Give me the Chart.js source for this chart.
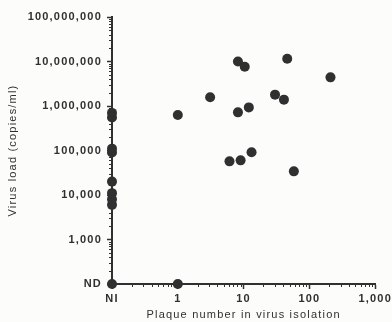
<!DOCTYPE html>
<html>
<head>
<meta charset="utf-8">
<script src="https://cdn.jsdelivr.net/npm/chart.js@4/dist/chart.umd.min.js"></script>
<style>
  html, body { margin: 0; padding: 0; background: #fcfcfb; }
  #wrap { width: 392px; height: 322px; }
</style>
</head>
<body>
<div id="wrap"><canvas id="chart"></canvas></div>
<script>
// valores
const NI = 0.1;      // "NI" en el eje x
const ND = 100;      // "ND" en el eje y
const xTicks = [0.1, 1, 10, 100, 1000];
const xTickLabels = ["NI", "1", "10", "100", "1,000"];
const yTicks = [100, 1000, 10000, 100000, 1000000, 10000000, 100000000];
const yTickLabels = ["ND", "1,000", "10,000", "100,000", "1,000,000", "10,000,000", "100,000,000"];

// pacientes sin aislamiento (NI)
const niLoads = [700000, 550000, 110000, 90000, 20000, 11000, 8000, 6000, 100];
// pacientes con placas
const plaqueNumbers = [1, 1, 3.1, 8.2, 10.4, 46, 209, 30, 41, 8.2, 12, 13.2, 6.1, 9.0, 58];
const plaqueLoads = [100, 630000, 1570000, 10000000, 7600000, 11500000, 4400000, 1800000, 1390000, 720000, 930000, 91000, 57000, 60000, 34000];

const puntos = niLoads.map(v => ({ x: NI, y: v }))
    .concat(plaqueNumbers.map((p, i) => ({ x: p, y: plaqueLoads[i] })));

const tinta = "#303030";

// ticks menores del eje log
const minorTicks = {
    id: "minorTicks",
    beforeDraw(chart) {
        chart.ctx.letterSpacing = "1.2px";
    },
    afterDatasetsDraw(chart) {
        const ctx = chart.ctx;
        const xs = chart.scales.x, ys = chart.scales.y;
        ctx.save();
        ctx.strokeStyle = tinta;
        ctx.lineWidth = 1;
        ctx.beginPath();
        for (let d = 0.1; d < 1000; d *= 10) {
            for (let m = 2; m <= 9; m++) {
                const px = Math.round(xs.getPixelForValue(d * m)) + 0.5;
                ctx.moveTo(px, xs.top);
                ctx.lineTo(px, xs.top + 3);
            }
        }
        for (let d = 100; d < 1e8; d *= 10) {
            for (let m = 2; m <= 9; m++) {
                const py = Math.round(ys.getPixelForValue(d * m)) + 0.5;
                ctx.moveTo(ys.right, py);
                ctx.lineTo(ys.right - 3, py);
            }
        }
        ctx.stroke();
        ctx.restore();
    }
};

const fuente = { family: "'Liberation Sans', Arial, sans-serif", size: 11, weight: "bold" };

new Chart(document.getElementById("chart"), {
    type: "scatter",
    data: {
        datasets: [{
            data: puntos,
            backgroundColor: tinta,
            borderWidth: 0,
            pointRadius: 5,
            pointHoverRadius: 5,
            clip: false
        }]
    },
    options: {
        responsive: true,
        maintainAspectRatio: false,
        animation: false,
        events: [],
        layout: { padding: { top: 17, right: 15, left: 6, bottom: 0 } },
        plugins: { legend: { display: false }, tooltip: { enabled: false } },
        scales: {
            x: {
                type: "logarithmic",
                min: 0.1,
                max: 1000,
                afterBuildTicks: s => { s.ticks = xTicks.map(v => ({ value: v, major: true })); },
                afterFit: s => { s.height = 38; },
                border: { color: tinta, width: 2 },
                grid: { drawOnChartArea: false, tickLength: 5, tickColor: tinta, tickWidth: 1.5 },
                ticks: {
                    color: tinta,
                    font: fuente,
                    padding: 3,
                    maxRotation: 0,
                    autoSkip: false,
                    callback: v => xTickLabels[xTicks.indexOf(v)]
                },
                title: {
                    display: true,
                    text: "Plaque number in virus isolation",
                    color: tinta,
                    font: { family: fuente.family, size: 11 },
                    padding: 0
                }
            },
            y: {
                type: "logarithmic",
                min: 100,
                max: 100000000,
                afterBuildTicks: s => { s.ticks = yTicks.map(v => ({ value: v, major: true })); },
                afterFit: s => { s.width = 106; },
                border: { color: tinta, width: 2 },
                grid: { drawOnChartArea: false, tickLength: 5, tickColor: tinta, tickWidth: 1.5 },
                ticks: {
                    color: tinta,
                    font: fuente,
                    padding: 5,
                    autoSkip: false,
                    callback: v => yTickLabels[yTicks.indexOf(v)]
                },
                title: {
                    display: true,
                    text: "Virus load (copies/ml)",
                    color: tinta,
                    font: { family: fuente.family, size: 11 },
                    padding: 0
                }
            }
        }
    },
    plugins: [minorTicks]
});
</script>
</body>
</html>
